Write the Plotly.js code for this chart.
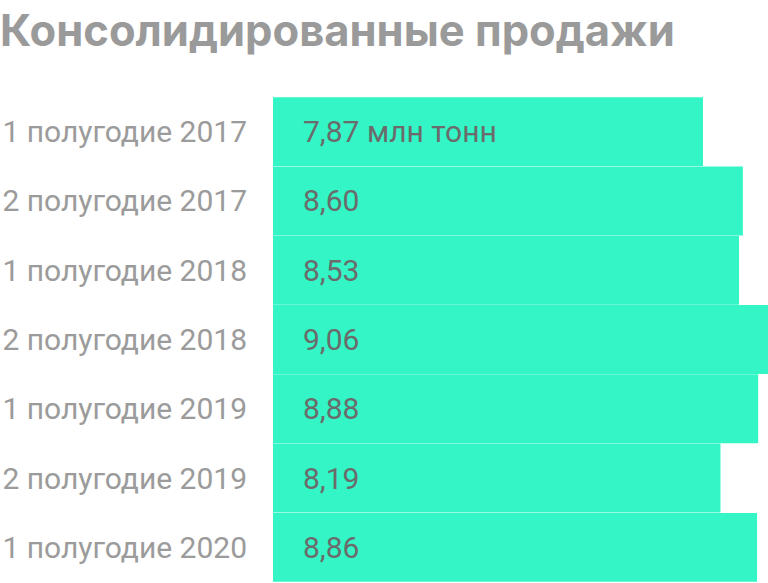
<!DOCTYPE html>
<html>
<head>
<meta charset="utf-8">
<script src="https://cdn.plot.ly/plotly-3.0.1.min.js"></script>
<style>html,body{margin:0;padding:0;background:#fff;}#chart{width:768px;height:583px;}</style>
</head>
<body>
<div id="chart"></div>
<script>
const categories = ["1 полугодие 2017","2 полугодие 2017","1 полугодие 2018","2 полугодие 2018","1 полугодие 2019","2 полугодие 2019","1 полугодие 2020"];
const sales = [7.87, 8.60, 8.53, 9.06, 8.88, 8.19, 8.86];
const valueLabels = ["7,87 млн тонн","8,60","8,53","9,06","8,88","8,19","8,86"];
const titleText = "Консолидированные продажи";

const trace = {
  type: 'bar',
  orientation: 'h',
  x: sales,
  y: categories,
  marker: {color: '#33f5c5', line: {width: 0}},
  hoverinfo: 'none'
};

const annotations = categories.map((c, i) => ({
  x: 0, y: c, xref: 'x', yref: 'y',
  text: valueLabels[i], showarrow: false,
  xanchor: 'left', yanchor: 'middle', xshift: 28,
  font: {family: 'Roboto', size: 30, color: '#6b6b6b'}
}));

const layout = {
  width: 768, height: 583,
  margin: {l: 273, r: 0, t: 97, b: 1, pad: 0},
  paper_bgcolor: '#ffffff', plot_bgcolor: '#ffffff',
  showlegend: false,
  bargap: 0.005,
  title: {
    text: '<b>' + titleText + '</b>',
    x: 0, xref: 'container', xanchor: 'left',
    y: 1 - 31/583, yref: 'container', yanchor: 'middle',
    font: {family: 'Inter', size: 43.5, color: '#9a9a9a'}
  },
  xaxis: {range: [0, Math.max(...sales)], visible: false, fixedrange: true},
  yaxis: {
    autorange: 'reversed', showgrid: false, zeroline: false, showline: false,
    ticks: '', ticklabelstandoff: 25,
    tickfont: {family: 'Roboto', size: 30, color: '#9b9b9b'}
  },
  annotations: annotations
};

Plotly.newPlot('chart', [trace], layout, {displayModeBar: false, staticPlot: true});
</script>
</body>
</html>
